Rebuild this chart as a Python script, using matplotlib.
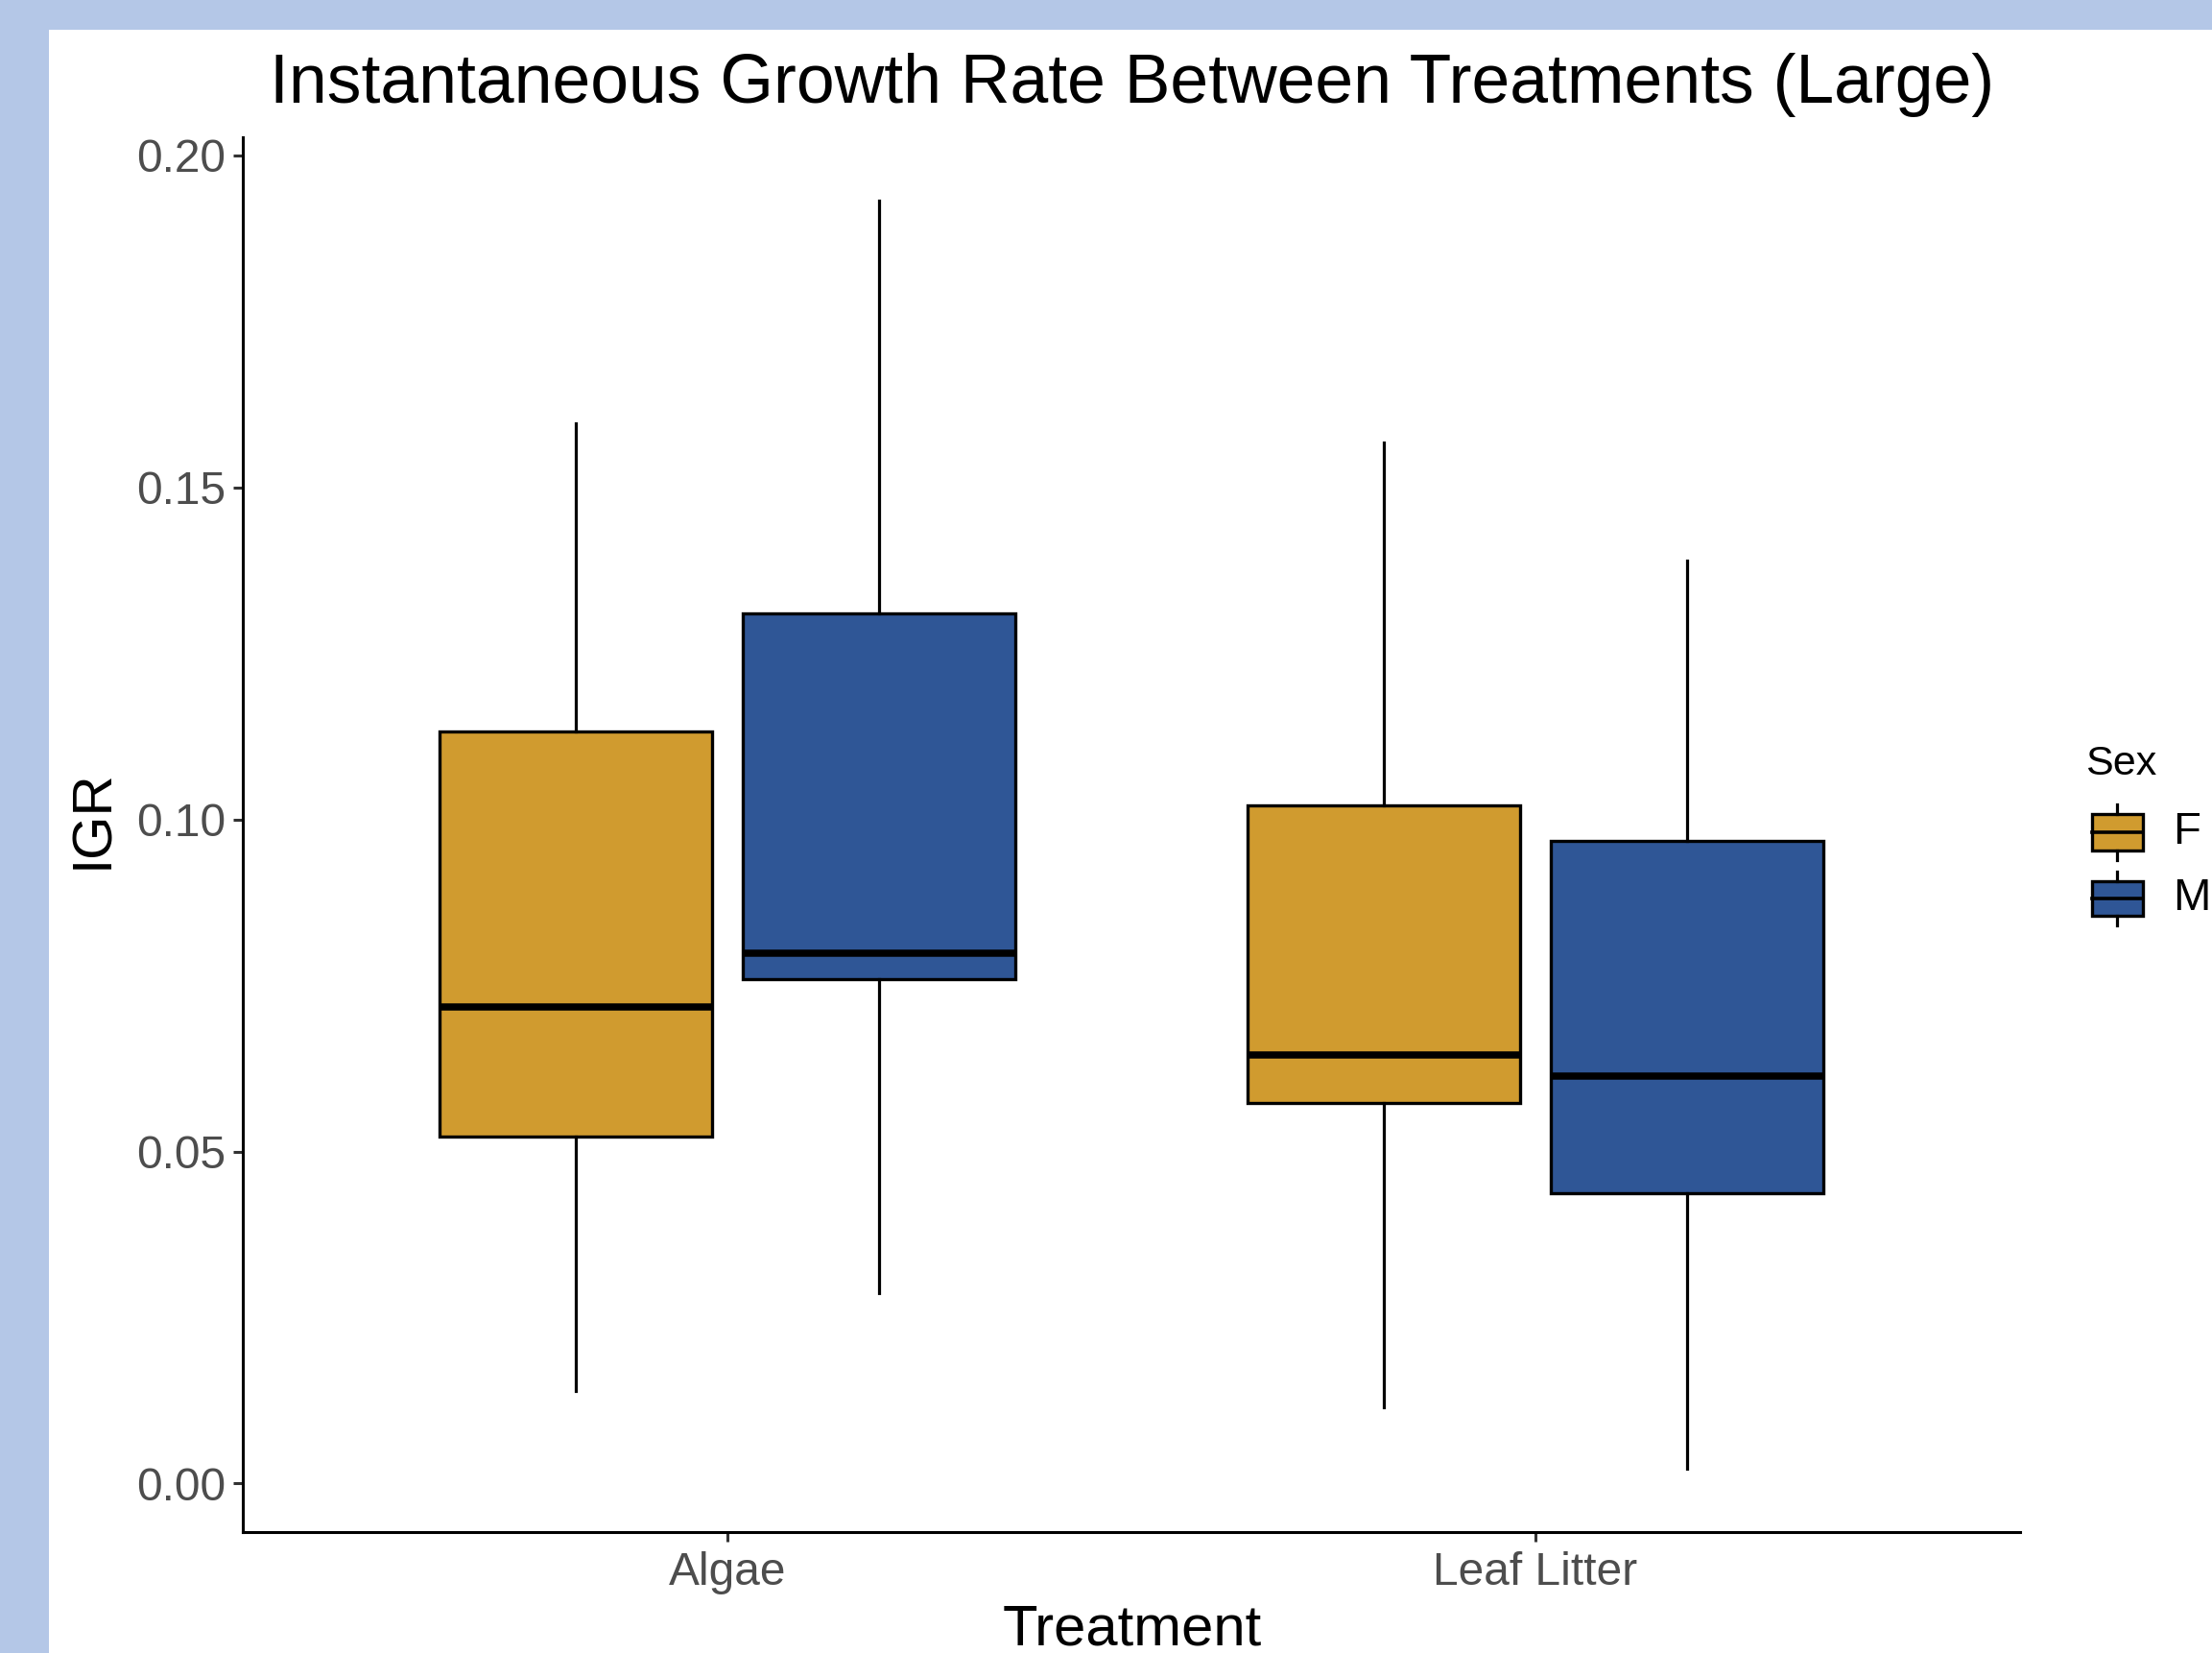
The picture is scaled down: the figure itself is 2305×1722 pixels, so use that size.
import matplotlib
matplotlib.use("Agg")
import matplotlib.pyplot as plt
from matplotlib.patches import Rectangle
from matplotlib.lines import Line2D

# ---- data ----
treatments = ["Algae", "Leaf Litter"]
sexes = ["F", "M"]
f_whislo = [0.0140, 0.0115]
f_q1     = [0.0522, 0.0573]
f_med    = [0.0718, 0.0645]
f_q3     = [0.1132, 0.1021]
f_whishi = [0.1597, 0.1567]
m_whislo = [0.0287, 0.0023]
m_q1     = [0.0760, 0.0437]
m_med    = [0.0798, 0.0614]
m_q3     = [0.1310, 0.0968]
m_whishi = [0.1932, 0.1389]
yticks = [0.00, 0.05, 0.10, 0.15, 0.20]

colors = {"F": "#D09B2F", "M": "#2F5696"}

W, H = 2305, 1722
fig = plt.figure(figsize=(W / 100, H / 100), dpi=100)
fig.patch.set_facecolor("#B4C7E7")
bg = Rectangle((51 / W, 0), 1 - 51 / W, 1 - 31 / H,
               transform=fig.transFigure, facecolor="white",
               edgecolor="none", zorder=-10)
fig.add_artist(bg)

FONT = "Liberation Sans"
ax = fig.add_axes([253 / W, 1 - 1596 / H, (2105 - 253) / W, (1596 - 143) / H])
ax.set_zorder(1)
ax.set_facecolor("white")

series = {
    "F": (f_whislo, f_q1, f_med, f_q3, f_whishi, -0.1875),
    "M": (m_whislo, m_q1, m_med, m_q3, m_whishi, 0.1875),
}
for s in sexes:
    lo, q1, med, q3, hi, off = series[s]
    stats = [dict(whislo=lo[i], q1=q1[i], med=med[i], q3=q3[i], whishi=hi[i],
                  fliers=[], label=treatments[i]) for i in range(len(treatments))]
    pos = [i + 1 + off for i in range(len(treatments))]
    ax.bxp(stats, positions=pos, widths=0.3375, patch_artist=True,
           showcaps=False, showfliers=False, manage_ticks=False,
           boxprops=dict(facecolor=colors[s], edgecolor="black", linewidth=2.4),
           whiskerprops=dict(color="black", linewidth=2.3),
           medianprops=dict(color="black", linewidth=5.4, solid_capstyle="butt"))

ax.set_xlim(0.4, 2.6)
ax.set_ylim(-0.0073, 0.2027)
ax.set_xticks([1, 2])
ax.set_xticklabels(treatments)
ax.set_yticks(yticks)
ax.set_yticklabels([f"{v:.2f}" for v in yticks])
for sp in ["top", "right"]:
    ax.spines[sp].set_visible(False)
for sp in ["left", "bottom"]:
    ax.spines[sp].set_linewidth(2.2)
    ax.spines[sp].set_color("black")
ax.tick_params(axis="both", length=7, width=2.2, color="#333333",
               labelcolor="#4D4D4D", labelsize=34.5, pad=6)
ax.tick_params(axis="x", pad=7.5)
for lab in ax.get_xticklabels() + ax.get_yticklabels():
    lab.set_fontfamily(FONT)

fig.text(1180 / W, 1 - 107 / H, "Instantaneous Growth Rate Between Treatments (Large)",
         ha="center", va="baseline", fontsize=51.5, fontfamily=FONT, color="black")
fig.text(1180 / W, 1 - 1713 / H, "Treatment", ha="center", va="baseline",
         fontsize=43, fontfamily=FONT, color="black")
fig.text(97 / W, 869 / H, "IGR", ha="center", va="center", rotation=90,
         fontsize=42, fontfamily=FONT, color="black")

# ---- legend ----
lax = fig.add_axes([2150 / W, 1 - 980 / H, (W - 2150) / W, 220 / H])
lax.set_zorder(2)
lax.set_xlim(2150, W)
lax.set_ylim(980, 760)
lax.axis("off")
lax.text(2173, 807, "Sex", ha="left", va="baseline", fontsize=31,
         fontfamily=FONT, color="black", clip_on=False)
key_rows = [("F", 838, 848, 867, 886, 896), ("M", 908, 918, 936, 954, 964)]
for s, wt, bt, md, bb, wb in key_rows:
    cx = 2206
    lax.add_line(Line2D([cx, cx], [wt, bt], color="black", linewidth=2.3))
    lax.add_line(Line2D([cx, cx], [bb, wb], color="black", linewidth=2.3))
    lax.add_patch(Rectangle((2180, bt), 53, bb - bt, facecolor=colors[s],
                            edgecolor="black", linewidth=2.4))
    lax.add_line(Line2D([2180, 2233], [md, md], color="black", linewidth=2.6))
    lax.text(2264, md, s, ha="left", va="center", fontsize=34,
             fontfamily=FONT, color="black", clip_on=False)

fig.savefig("out.png", dpi=100, facecolor=fig.get_facecolor())
